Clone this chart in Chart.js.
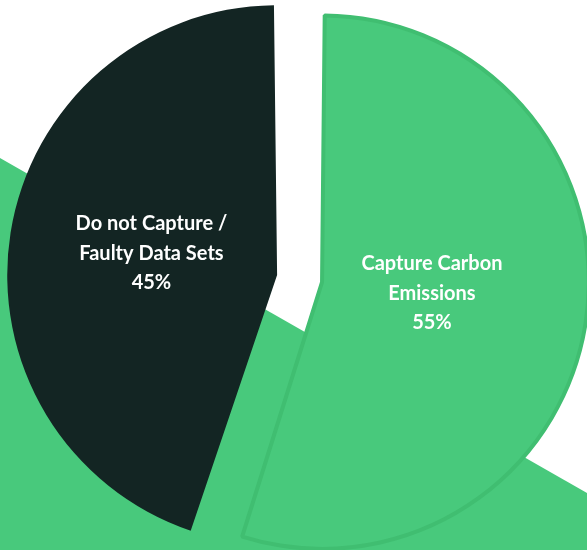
<!DOCTYPE html>
<html>
<head>
<meta charset="utf-8">
<script src="https://cdn.jsdelivr.net/npm/chart.js@4"></script>
<style>
  html, body { margin: 0; padding: 0; background: #ffffff; }
  #wrap { width: 587px; height: 550px; }
</style>
</head>
<body>
<div id="wrap"><canvas id="pieChart" width="587" height="550"></canvas></div>
<script>
const categories = ['Capture Carbon Emissions', 'Do not Capture / Faulty Data Sets'];
const shares = [55, 45];
const labelLines = [
    ['Capture Carbon', 'Emissions'],
    ['Do not Capture /', 'Faulty Data Sets']
];
const sliceColors = ['#48c97c', '#132523'];

// green diagonal band behind the pie
const bandPlugin = {
    id: 'band',
    beforeDraw(chart) {
        const ctx = chart.ctx;
        ctx.save();
        ctx.fillStyle = '#48c97c';
        ctx.beginPath();
        ctx.moveTo(0, 158);
        ctx.lineTo(587, 493);
        ctx.lineTo(587, 550);
        ctx.lineTo(0, 550);
        ctx.closePath();
        ctx.fill();
        ctx.restore();
    }
};

// white labels inside the slices
const sliceLabels = {
    id: 'sliceLabels',
    afterDatasetsDraw(chart, args, opts) {
        const ctx = chart.ctx;
        const meta = chart.getDatasetMeta(0);
        ctx.save();
        ctx.fillStyle = '#ffffff';
        ctx.font = 'bold 20px Lato, "Open Sans", sans-serif';
        ctx.textAlign = 'center';
        ctx.textBaseline = 'middle';
        meta.data.forEach((arc, i) => {
            const p = arc.getProps(['x', 'y', 'startAngle', 'endAngle'], true);
            const mid = (p.startAngle + p.endAngle) / 2;
            const d = opts.dist[i];
            const cx = p.x + Math.cos(mid) * d;
            const cy = p.y + Math.sin(mid) * d + opts.dy[i];
            const lines = labelLines[i].concat([shares[i] + '%']);
            lines.forEach((t, j) => {
                ctx.fillText(t, cx, cy + (j - 1) * 29.5);
            });
        });
        ctx.restore();
    }
};

new Chart(document.getElementById('pieChart'), {
    type: 'pie',
    data: {
        labels: categories,
        datasets: [{
            data: shares,
            backgroundColor: sliceColors,
            borderColor: ['#40be71', '#132523'],
            borderWidth: [4, 0],
            borderAlign: 'center',
            offset: [67, 115]
        }]
    },
    options: {
        responsive: false,
        animation: false,
        radius: 250,
        layout: { padding: { left: 24, top: 9 } },
        plugins: {
            legend: { display: false },
            tooltip: { enabled: false },
            sliceLabels: { dist: [128, 156], dy: [-6, -2] }
        }
    },
    plugins: [bandPlugin, sliceLabels]
});
</script>
</body>
</html>
